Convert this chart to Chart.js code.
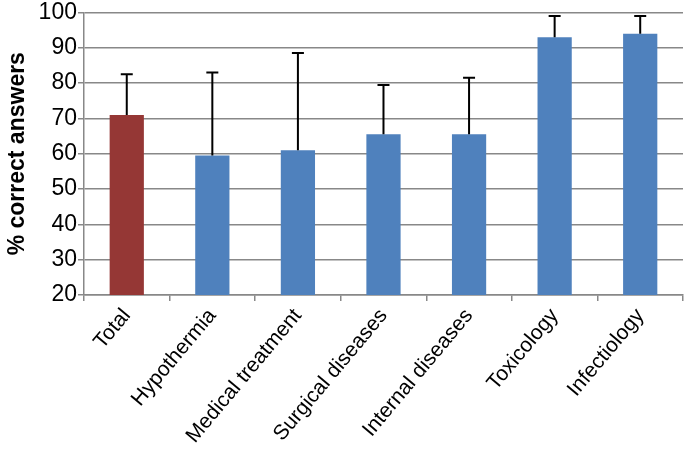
<!DOCTYPE html>
<html lang="en">
<head>
    <meta charset="UTF-8">
    <title>% correct answers</title>
    <style>
        body {
            margin: 0;
            padding: 0;
            background: white;
        }
    </style>
    <script src="https://cdn.jsdelivr.net/npm/chart.js"></script>
</head>
<body>
    <canvas id="myChart" width="685" height="451"></canvas>
    <script>
        // Data
        const categories = ['Total', 'Hypothermia', 'Medical treatment', 'Surgical diseases',
            'Internal diseases', 'Toxicology', 'Infectiology'];
        const percentCorrect = [71, 59.5, 61, 65.5, 65.5, 93, 94];
        const errorTop = [82.5, 83, 88.5, 79.5, 81.5, 99, 99];
        const barColors = ['#953735', '#4f81bd', '#4f81bd', '#4f81bd', '#4f81bd', '#4f81bd', '#4f81bd'];

        // Upper error bars, drawn through the y scale
        const errorBars = {
            id: 'errorBars',
            afterDatasetsDraw(chart) {
                const ctx = chart.ctx;
                const meta = chart.getDatasetMeta(0);
                const y = chart.scales.y;
                ctx.save();
                ctx.strokeStyle = '#000';
                ctx.lineWidth = 2;
                meta.data.forEach((bar, i) => {
                    const yTop = y.getPixelForValue(errorTop[i]);
                    const yBar = y.getPixelForValue(percentCorrect[i]);
                    ctx.beginPath();
                    ctx.moveTo(bar.x, yBar);
                    ctx.lineTo(bar.x, yTop);
                    ctx.moveTo(bar.x - 6, yTop);
                    ctx.lineTo(bar.x + 6, yTop);
                    ctx.stroke();
                });
                ctx.restore();
            }
        };

        const font = '"Liberation Sans", Arial, sans-serif';

        const ctx = document.getElementById('myChart').getContext('2d');
        const myChart = new Chart(ctx, {
            type: 'bar',
            data: {
                labels: categories,
                datasets: [{
                    data: percentCorrect,
                    backgroundColor: barColors,
                    barPercentage: 0.8,
                    categoryPercentage: 0.5
                }]
            },
            options: {
                responsive: false,
                animation: false,
                layout: { padding: { top: 1, right: 2, left: 4, bottom: 0 } },
                plugins: {
                    legend: { display: false },
                    tooltip: { enabled: false }
                },
                scales: {
                    x: {
                        grid: {
                            offset: true,
                            drawOnChartArea: false,
                            color: '#888',
                            lineWidth: 1.5,
                            tickLength: 6
                        },
                        border: { color: '#888', width: 1.5 },
                        ticks: {
                            minRotation: 50,
                            maxRotation: 50,
                            color: '#000',
                            padding: 3,
                            font: { family: font, size: 21 }
                        }
                    },
                    y: {
                        min: 20,
                        max: 100,
                        ticks: {
                            stepSize: 10,
                            color: '#000',
                            padding: 1,
                            font: { family: font, size: 23, lineHeight: 1.0 }
                        },
                        grid: { color: '#888', lineWidth: 1.5, tickLength: 6 },
                        border: { color: '#888', width: 1.5 },
                        title: {
                            display: true,
                            text: '% correct answers',
                            color: '#000',
                            padding: { top: 0, bottom: 6 },
                            font: { family: font, size: 23, weight: 'bold' }
                        }
                    }
                }
            },
            plugins: [errorBars]
        });
    </script>
</body>
</html>
